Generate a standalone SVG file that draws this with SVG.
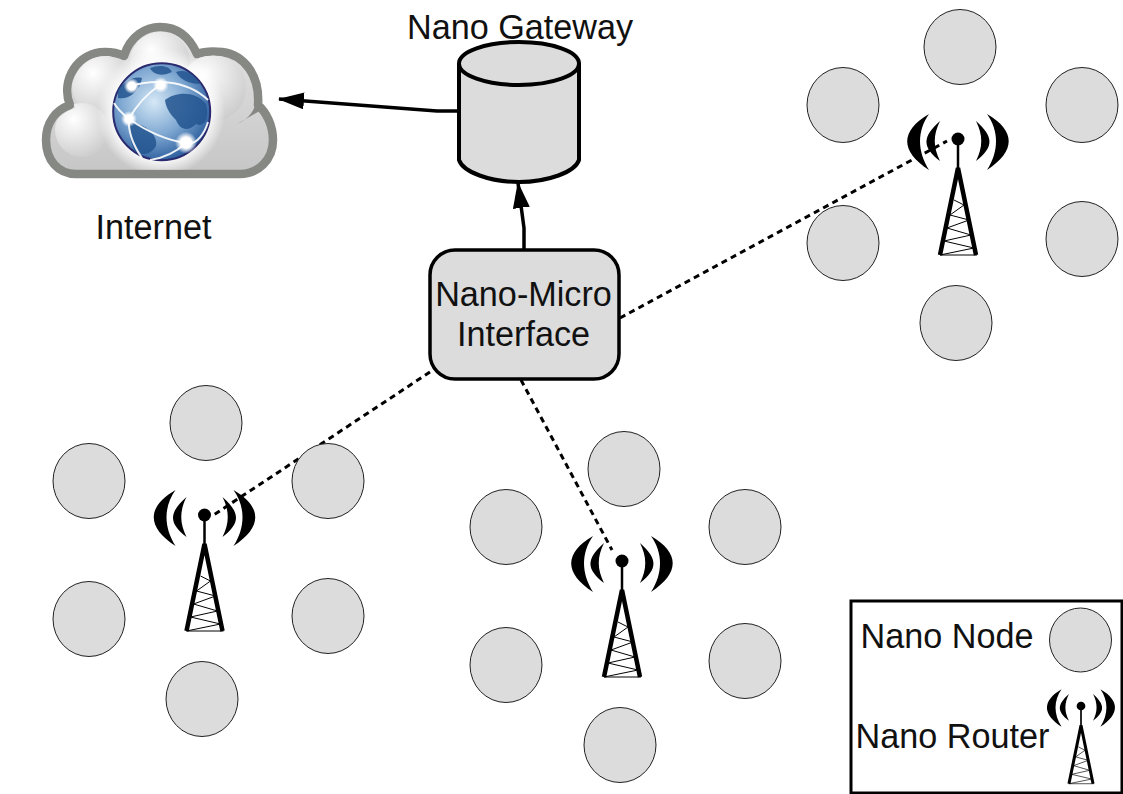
<svg xmlns="http://www.w3.org/2000/svg" xmlns:xlink="http://www.w3.org/1999/xlink" width="1123" height="794" viewBox="0 0 1123 794">
<style>
text{font-family:"Liberation Sans",Arial,sans-serif;font-size:34.200px;fill:#111}
.n{fill:#dcdcdc;stroke:#222;stroke-width:1}
.g{fill:#dcdcdc;stroke:#000;stroke-width:4}
.d{fill:none;stroke:#000;stroke-width:3;stroke-dasharray:6 4.5}
.s{fill:none;stroke:#000;stroke-width:3.5}
.gl{fill:none;stroke:#fff;stroke-width:2;opacity:.9}
.c{fill:#23558f;opacity:.85}
</style>
<defs>
<marker id="ah" markerUnits="userSpaceOnUse" markerWidth="26" markerHeight="18" refX="25" refY="8.500" orient="auto"><path d="M0 0L26 8.500L0 17Z" fill="#000"/></marker>
<radialGradient id="glb" cx=".42" cy=".4" r=".62"><stop offset="0" stop-color="#d5e8f6"/><stop offset=".55" stop-color="#7fa8d2"/><stop offset="1" stop-color="#2d5f9e"/></radialGradient>
<linearGradient id="cl" x1="0" y1="0" x2="0" y2="1"><stop offset="0" stop-color="#e4e4e4"/><stop offset="1" stop-color="#c6c6c6"/></linearGradient>
<radialGradient id="lobe" cx=".35" cy=".3" r=".8"><stop offset="0" stop-color="#fff"/><stop offset="1" stop-color="#c9c9c9"/></radialGradient>
<radialGradient id="halo"><stop offset="0" stop-color="#fff"/><stop offset=".75" stop-color="#fff" stop-opacity=".9"/><stop offset="1" stop-color="#fff" stop-opacity="0"/></radialGradient>
<radialGradient id="gw"><stop offset="0" stop-color="#fff"/><stop offset=".5" stop-color="#fff"/><stop offset="1" stop-color="#fff" stop-opacity="0"/></radialGradient>
<clipPath id="cc"><path d="M76 170C60 170 50 158 50 140C50 124 60 113 75 108C64 82 82 56 105 56C113 56 120 57 126 61C132 40 146 31 160 31C176 31 188 42 195 59C205 55 214 55 222 56C243 59 256 78 254 106C264 114 269 126 269 140C269 158 256 170 240 170Z"/></clipPath>
<g id="tower">
<path d="M-29-25C-58-8-58 12-29 31C-41 12-41-8-29-25ZM29-25C58-8 58 12 29 31C41 12 41-8 29-25Z" fill="#000"/>
<path d="M-18-18C-36-2-36 8-18 22C-25 8-25-4-18-18ZM18-18C36-2 36 8 18 22C25 8 25-4 18-18Z" fill="#000"/>
<circle r="6.500" fill="#000"/>
<path d="M0 0V30" stroke="#000" stroke-width="2.500" fill="none"/>
<path d="M-18 116L0 29L18 116" stroke="#000" stroke-width="4.500" fill="none"/>
<path d="M-4 61L6 66L-8 76L11 81L-11 89L13 96L-14 102L16 109L-18 116L19 116" stroke="#000" stroke-width="1" fill="none"/>
</g>
</defs>

<g id="connectors">
<path class="s" d="M458 111L437 111L279 99" marker-end="url(#ah)"/>
<path class="s" d="M524 249L524 228L518 183" marker-end="url(#ah)"/>
<path class="d" d="M430 372L212 516"/>
<path class="d" d="M521 380L612 550"/>
<path class="d" d="M620 318L947 141"/>
</g>

<g id="internet">
<path d="M76 174C58 174 46 160 46 140C46 122 56 110 70 105C60 80 78 52 105 52C112 52 118 53 124 56C130 36 146 27 160 27C178 27 190 38 197 54C205 51 214 51 222 52C245 55 260 76 258 105C266 112 273 125 273 140C273 160 258 174 240 174Z" fill="url(#cl)" stroke="#868883" stroke-width="8.500" stroke-linejoin="round"/>
<path d="M237 124C250 118 255 110 256 100L263 109Z" fill="#868883"/>
<g clip-path="url(#cc)">
<circle cx="102" cy="85" r="30" fill="url(#lobe)"/>
<circle cx="160" cy="62" r="30" fill="url(#lobe)"/>
<circle cx="213" cy="88" r="33" fill="url(#lobe)"/>
<circle cx="82" cy="130" r="27" fill="url(#lobe)"/>
<circle cx="161" cy="112" r="64" fill="url(#halo)"/>
</g>
<circle cx="161.700" cy="111.700" r="48.500" fill="url(#glb)" stroke="#2a2a6e" stroke-width="2"/>
<path class="c" d="M165 100C175 92 195 90 206 104C210 118 204 128 196 124C188 132 180 130 176 120C170 114 166 108 165 100Z"/>
<path class="c" d="M130 122C145 124 158 134 156 146C150 156 140 156 134 150C130 140 128 130 130 122Z"/>
<path class="c" d="M150 68C160 64 170 66 172 72C164 76 154 76 150 68ZM176 72C186 68 196 76 200 84C190 84 180 80 176 72ZM118 90C126 80 134 76 142 78C140 92 128 100 118 98Z"/>
<g class="gl">
<path d="M131 86C150 80 185 78 208 100"/>
<path d="M160 85C145 95 135 108 129 119C128 132 133 145 142 158"/>
<path d="M114 103C118 110 124 115 129 119C145 130 165 140 186 143C197 146 205 132 208 122"/>
<path d="M186 143C176 152 165 158 150 160"/>
</g>
<circle cx="131.700" cy="86" r="8" fill="url(#gw)"/>
<circle cx="160.700" cy="85" r="8" fill="url(#gw)"/>
<circle cx="129" cy="119" r="8" fill="url(#gw)"/>
<circle cx="186" cy="142.700" r="11" fill="url(#gw)"/>
<text x="95.500" y="239">Internet</text>
</g>

<g id="gateway">
<path class="g" d="M459 63V160C463 172 490 182 519 182C548 182 575 172 579 160V63"/>
<ellipse class="g" cx="519" cy="63.500" rx="60" ry="21.500"/>
<text x="407" y="39">Nano Gateway</text>
</g>

<g id="interface">
<rect x="430" y="250" width="189" height="129" rx="25" ry="25" fill="#dcdcdc" stroke="#000" stroke-width="3.500"/>
<text x="523.500" y="306" text-anchor="middle">Nano-Micro</text>
<text x="523.500" y="346" text-anchor="middle">Interface</text>
</g>

<g id="cluster-1">
<ellipse class="n" cx="206" cy="423" rx="36" ry="37.500"/>
<ellipse class="n" cx="89" cy="481" rx="36" ry="37.500"/>
<ellipse class="n" cx="328" cy="481" rx="36" ry="37.500"/>
<ellipse class="n" cx="89" cy="619" rx="36" ry="37.500"/>
<ellipse class="n" cx="328" cy="616" rx="36" ry="37.500"/>
<ellipse class="n" cx="202" cy="699" rx="36" ry="37.500"/>
<use href="#tower" xlink:href="#tower" x="204.500" y="515"/>
</g>

<g id="cluster-2">
<ellipse class="n" cx="624" cy="469" rx="36" ry="37.500"/>
<ellipse class="n" cx="506" cy="527" rx="36" ry="37.500"/>
<ellipse class="n" cx="745" cy="527" rx="36" ry="37.500"/>
<ellipse class="n" cx="506" cy="665" rx="36" ry="37.500"/>
<ellipse class="n" cx="745" cy="661" rx="36" ry="37.500"/>
<ellipse class="n" cx="620" cy="745" rx="36" ry="37.500"/>
<use href="#tower" xlink:href="#tower" x="622" y="561"/>
</g>

<g id="cluster-3">
<ellipse class="n" cx="960" cy="47" rx="36" ry="37.500"/>
<ellipse class="n" cx="843" cy="105" rx="36" ry="37.500"/>
<ellipse class="n" cx="1082" cy="105" rx="36" ry="37.500"/>
<ellipse class="n" cx="843" cy="243" rx="36" ry="37.500"/>
<ellipse class="n" cx="1082" cy="239" rx="36" ry="37.500"/>
<ellipse class="n" cx="956" cy="323" rx="36" ry="37.500"/>
<use href="#tower" xlink:href="#tower" x="958" y="139"/>
</g>

<g id="legend">
<rect x="851" y="601" width="271" height="192" fill="none" stroke="#000" stroke-width="3"/>
<text x="860.500" y="648">Nano Node</text>
<ellipse class="n" cx="1080.500" cy="640" rx="31" ry="32"/>
<text x="855.500" y="748">Nano Router</text>
<use href="#tower" xlink:href="#tower" transform="translate(1081 706) scale(.67)"/>
</g>
</svg>
